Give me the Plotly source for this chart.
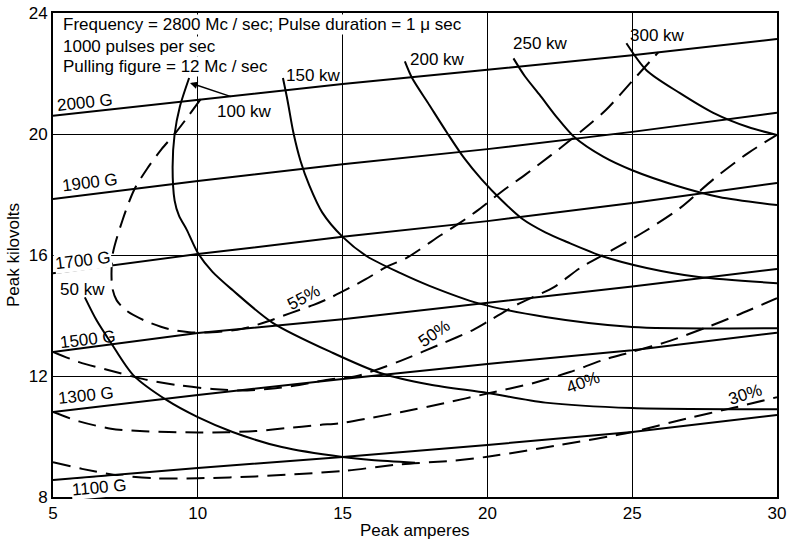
import plotly.graph_objects as go

# ---------------- data ----------------
# constant magnetic field lines
field_amps = [5, 10, 15, 20, 25, 30]
kv_2000G = [20.6, 21.12, 21.65, 22.12, 22.6, 23.14]
kv_1900G = [17.85, 18.45, 19.0, 19.5, 20.07, 20.7]
kv_1700G = [15.4, 16.03, 16.6, 17.12, 17.72, 18.38]
kv_1500G = [12.79, 13.42, 13.88, 14.41, 14.96, 15.54]
kv_1300G = [10.81, 11.37, 11.9, 12.4, 12.85, 13.43]
kv_1100G = [8.56, 8.96, 9.32, 9.72, 10.15, 10.71]
field_labels = ["2000 G", "1900 G", "1700 G", "1500 G", "1300 G", "1100 G"]

# constant output power curves
amps_50kw = [6.1, 6.5, 7.0, 7.77, 8.93, 10.0, 11.2, 12.9, 15.0, 16.0, 17.5]
kv_50kw = [14.6, 13.85, 13.1, 12.03, 11.2, 10.64, 10.15, 9.65, 9.32, 9.22, 9.13]

amps_100kw = [9.7, 9.38, 9.2, 9.13, 9.2, 9.35, 9.62, 10.0, 10.5, 11.2, 12.6, 14.67, 16.3, 18.0, 20.0, 22.0, 25.0, 30.0]
kv_100kw = [21.85, 20.9, 20.0, 18.9, 17.8, 17.3, 16.83, 16.07, 15.45, 14.84, 13.75, 12.76, 12.1, 11.72, 11.44, 11.12, 10.94, 10.9]

amps_150kw = [12.94, 13.1, 13.3, 13.55, 13.85, 14.3, 15.0, 15.85, 17.0, 18.0, 19.7, 22.0, 25.0, 30.0]
kv_150kw = [21.85, 21.1, 20.05, 19.1, 18.3, 17.4, 16.6, 15.95, 15.4, 14.98, 14.4, 13.95, 13.62, 13.58]

amps_200kw = [17.15, 17.4, 18.0, 18.6, 19.2, 19.8, 20.5, 21.2, 22.0, 22.75, 24.0, 25.5, 27.3, 30.0]
kv_200kw = [22.4, 21.85, 20.95, 20.05, 19.2, 18.5, 17.8, 17.2, 16.75, 16.43, 15.95, 15.57, 15.27, 15.07]

amps_250kw = [20.9, 21.3, 21.8, 22.4, 23.0, 24.0, 25.0, 26.5, 28.0, 30.0]
kv_250kw = [22.5, 21.9, 21.3, 20.55, 19.9, 19.25, 18.8, 18.3, 17.92, 17.65]

amps_300kw = [24.8, 25.5, 26.65, 27.8, 29.0, 30.0]
kv_300kw = [23.0, 22.1, 21.35, 20.7, 20.23, 19.97]

# efficiency contours (dashed)
amps_30pct = [5.0, 6.0, 7.2, 8.5, 10.0, 12.0, 15.0, 17.0, 18.8, 20.0, 22.5, 25.0, 26.9, 28.5, 30.0]
kv_30pct = [9.15, 8.93, 8.72, 8.62, 8.62, 8.68, 8.86, 9.08, 9.2, 9.33, 9.72, 10.15, 10.6, 10.95, 11.3]

amps_40pct = [5.0, 5.9, 7.0, 8.0, 9.0, 10.0, 11.0, 12.0, 13.0, 14.2, 15.0, 16.0, 17.0, 18.5, 20.0, 21.6, 22.85, 24.0, 25.0, 26.3, 27.6, 28.6, 30.0]
kv_40pct = [10.81, 10.5, 10.26, 10.18, 10.15, 10.13, 10.14, 10.18, 10.27, 10.38, 10.45, 10.62, 10.8, 11.1, 11.42, 11.77, 12.13, 12.53, 12.8, 13.16, 13.62, 14.0, 14.57]

amps_50pct = [5.0, 5.9, 6.9, 8.2, 9.3, 10.5, 11.5, 12.5, 13.5, 14.5, 15.5, 16.3, 17.0, 18.5, 19.5, 20.1, 21.0, 22.3, 23.2, 24.3, 25.4, 26.65, 27.8, 29.0, 30.0]
kv_50pct = [12.8, 12.46, 12.2, 11.88, 11.7, 11.57, 11.52, 11.58, 11.7, 11.88, 12.0, 12.25, 12.5, 13.1, 13.52, 13.85, 14.35, 14.94, 15.57, 16.16, 16.76, 17.55, 18.5, 19.37, 19.97]

amps_55pct = [10.1, 9.6, 9.2, 8.75, 8.25, 7.8, 7.4, 7.07, 7.02, 7.05, 7.2, 7.55, 8.24, 9.0, 9.7, 10.5, 11.5, 12.4, 13.2, 14.0, 14.6, 15.8, 16.5, 17.2, 18.4, 19.05, 19.7, 20.5, 21.3, 22.2, 22.8, 23.5, 24.1, 25.0, 25.9]
kv_55pct = [21.15, 20.5, 20.0, 19.5, 18.85, 18.15, 17.15, 16.07, 15.4, 14.9, 14.5, 14.15, 13.8, 13.55, 13.45, 13.45, 13.55, 13.8, 14.08, 14.35, 14.6, 15.2, 15.6, 15.9, 16.66, 17.06, 17.5, 18.1, 18.65, 19.3, 19.75, 20.3, 20.8, 21.75, 22.7]

x_ticks = [5, 10, 15, 20, 25, 30]
y_ticks = [8, 12, 16, 20, 24]

FONT = "Liberation Sans, Arial, sans-serif"

fig = go.Figure()

solid = dict(color="black", width=2)
dashed = dict(color="black", width=2, dash="18px,9px")

for kv in [kv_2000G, kv_1900G, kv_1700G, kv_1500G, kv_1300G, kv_1100G]:
    fig.add_trace(go.Scatter(x=field_amps, y=kv, mode="lines", line=solid, hoverinfo="skip"))

for a, v in [(amps_50kw, kv_50kw), (amps_100kw, kv_100kw), (amps_150kw, kv_150kw),
             (amps_200kw, kv_200kw), (amps_250kw, kv_250kw), (amps_300kw, kv_300kw)]:
    fig.add_trace(go.Scatter(x=a, y=v, mode="lines", line=dict(solid, shape="spline", smoothing=0.8),
                             hoverinfo="skip"))

for a, v in [(amps_30pct, kv_30pct), (amps_40pct, kv_40pct), (amps_50pct, kv_50pct), (amps_55pct, kv_55pct)]:
    fig.add_trace(go.Scatter(x=a, y=v, mode="lines", line=dict(dashed, shape="spline", smoothing=0.8),
                             hoverinfo="skip"))

ann = []
def label(x, y, text, angle=0, bg=None, size=17, **kw):
    d = dict(x=x, y=y, xref="x", yref="y", text=text, showarrow=False, textangle=angle,
             font=dict(family=FONT, size=size, color="black"), borderpad=0)
    if bg:
        d["bgcolor"] = bg
    d.update(kw)
    ann.append(d)

# field labels
label(6.1, 21.05, field_labels[0], -6)
label(6.28, 18.4, field_labels[1], -7)
label(6.03, 15.82, field_labels[2], -7, bg="white")
label(6.2, 13.2, field_labels[3], -7)
label(6.14, 11.34, field_labels[4], -6)
label(6.62, 8.3, field_labels[5], -5, bg="white")

# power labels
label(6.03, 14.85, "50 kw")
label(11.6, 20.76, "100 kw")
label(14.0, 21.95, "150 kw")
label(18.26, 22.45, "200 kw")
label(21.85, 23.0, "250 kw")
label(25.86, 23.27, "300 kw")

# efficiency labels
label(13.67, 14.58, "55%", -28)
label(18.16, 13.42, "50%", -35)
label(23.3, 11.8, "40%", -20)
label(28.9, 11.4, "30%", -18)

# info text
label(5.3, 23.62, "Frequency = 2800 Mc / sec; Pulse duration = 1 \u03bc sec", bg="white", xanchor="left")
label(5.3, 22.9, "1000 pulses per sec", bg="white", xanchor="left")
label(5.3, 22.22, "Pulling figure = 12 Mc / sec", bg="white", xanchor="left")

# arrow to 100 kw curve
ann.append(dict(x=9.73, y=21.69, ax=11.2, ay=21.22, xref="x", yref="y", axref="x", ayref="y",
                text="", showarrow=True, arrowhead=2, arrowsize=1, arrowwidth=1.5, arrowcolor="black"))

# axis titles
ann.append(dict(x=0.5, y=0, xref="paper", yref="paper", yshift=-33, yanchor="middle",
                text="Peak amperes", showarrow=False, font=dict(family=FONT, size=17, color="black")))
ann.append(dict(x=0, y=0.5, xref="paper", yref="paper", xshift=-40, xanchor="center",
                text="Peak kilovolts", textangle=-90, showarrow=False,
                font=dict(family=FONT, size=17, color="black")))

fig.update_layout(
    width=791, height=545,
    margin=dict(l=53, r=14, t=13, b=48),
    paper_bgcolor="white", plot_bgcolor="white",
    showlegend=False,
    annotations=ann,
    xaxis=dict(range=[5, 30], tickvals=x_ticks, showgrid=True, gridcolor="black", gridwidth=1,
               showline=True, mirror=True, linecolor="black", linewidth=2, zeroline=False,
               automargin=False, ticks="", tickfont=dict(family=FONT, size=17, color="black")),
    yaxis=dict(range=[8, 24], tickvals=y_ticks, showgrid=True, gridcolor="black", gridwidth=1,
               showline=True, mirror=True, linecolor="black", linewidth=2, zeroline=False,
               automargin=False, ticks="", tickfont=dict(family=FONT, size=17, color="black")),
)

fig.write_html("out.html", config={"displayModeBar": False},
               post_script="document.body.style.margin='0';document.body.style.padding='0';")
